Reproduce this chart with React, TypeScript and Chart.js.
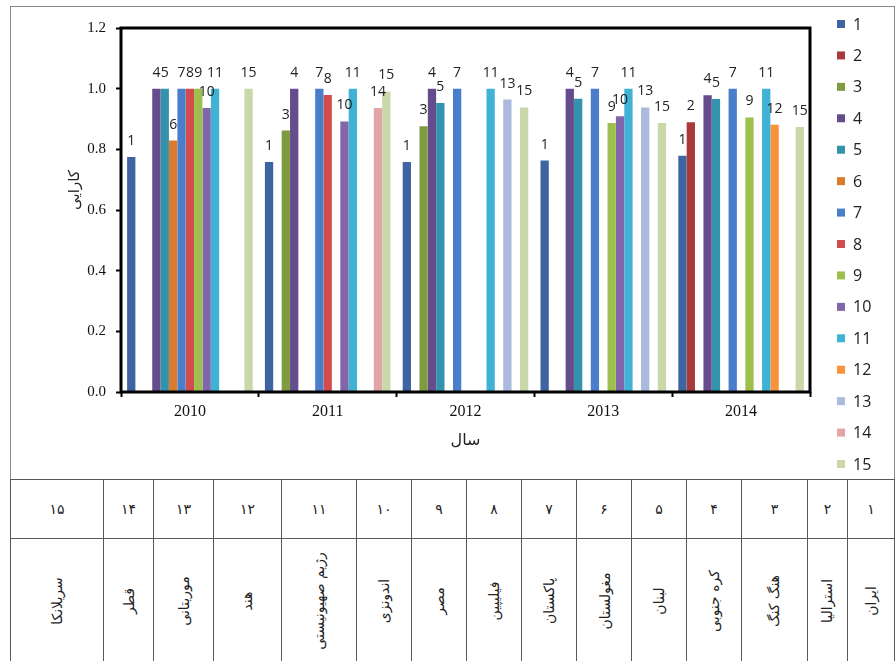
import React, { useEffect, useRef } from "react";
import { Chart, registerables } from "chart.js";

Chart.register(...registerables);

// ---- data ----
const years = ["2010", "2011", "2012", "2013", "2014"];
const seriesLabels = ["1", "2", "3", "4", "5", "6", "7", "8", "9", "10", "11", "12", "13", "14", "15"];

const s1 = [0.775, 0.758, 0.758, 0.763, 0.779];
const s2 = [null, null, null, null, 0.889];
const s3 = [null, 0.862, 0.876, null, null];
const s4 = [1.0, 1.0, 1.0, 1.0, 0.978];
const s5 = [1.0, null, 0.953, 0.967, 0.966];
const s6 = [0.829, null, null, null, null];
const s7 = [1.0, 1.0, 1.0, 1.0, 1.0];
const s8 = [1.0, 0.979, null, null, null];
const s9 = [1.0, null, null, 0.887, 0.905];
const s10 = [0.936, 0.892, null, 0.909, null];
const s11 = [1.0, 1.0, 1.0, 1.0, 1.0];
const s12 = [null, null, null, null, 0.881];
const s13 = [null, null, 0.964, 0.938, null];
const s14 = [null, 0.936, null, null, null];
const s15 = [1.0, 0.991, 0.938, 0.887, 0.874];

const seriesValues = [s1, s2, s3, s4, s5, s6, s7, s8, s9, s10, s11, s12, s13, s14, s15];

const seriesColors = [
  "#3F64A2", "#A83A3A", "#7E9B40", "#654C8C", "#3393AC",
  "#DA7B2D", "#4A7ECB", "#D24B4D", "#9DC04D", "#8166AC",
  "#40B2D3", "#F8933B", "#A9BADD", "#E2A4A4", "#C9D7A9",
];

const yMin = 0;
const yMax = 1.2;
const yStep = 0.2;
const yAxisTitle = "کارایی";
const xAxisTitle = "سال";

const tableNumbers = ["۱", "۲", "۳", "۴", "۵", "۶", "۷", "۸", "۹", "۱۰", "۱۱", "۱۲", "۱۳", "۱۴", "۱۵"];
const countryNames = [
  "ایران", "استرالیا", "هنگ کنگ", "کره جنوبی", "لبنان",
  "مغولستان", "پاکستان", "فیلیپین", "مصر", "اندونزی",
  "رژیم صهیونیستی", "هند", "موریتانی", "قطر", "سریلانکا",
];

// ---- layout (page px) ----
const colEdges = [10, 103, 153, 213, 281, 356, 411, 466, 521, 576, 631, 686, 741, 807, 847, 894];

const framePlugin = {
  id: "plotFrame",
  afterDatasetsDraw(chart: any) {
    const { ctx, chartArea } = chart;
    const { left, top, right, bottom } = chartArea;
    ctx.save();
    ctx.strokeStyle = "#000";
    ctx.lineWidth = 3;
    ctx.strokeRect(left, top, right - left, bottom - top);
    ctx.restore();
  },
};

const labelPlugin = {
  id: "barLabels",
  afterDatasetsDraw(chart: any) {
    const ctx = chart.ctx;
    ctx.save();
    ctx.font = '14px "Open Sans", sans-serif';
    ctx.fillStyle = "#222";
    ctx.textAlign = "center";
    ctx.textBaseline = "alphabetic";
    chart.data.datasets.forEach((ds: any, i: number) => {
      const meta = chart.getDatasetMeta(i);
      meta.data.forEach((el: any, j: number) => {
        const v = ds.data[j];
        if (v === null || v === undefined) return;
        ctx.fillText(ds.label, el.x, el.y - 12);
      });
    });
    ctx.restore();
  },
};

const legendPlugin = {
  id: "sideLegend",
  afterDraw(chart: any) {
    const { ctx, chartArea } = chart;
    const boxX = chartArea.right + 27;
    const textX = chartArea.right + 43;
    ctx.save();
    ctx.font = '16px "Open Sans", sans-serif';
    ctx.textAlign = "left";
    ctx.textBaseline = "middle";
    chart.data.datasets.forEach((ds: any, i: number) => {
      const cy = chartArea.top - 4 + i * 31.43;
      ctx.fillStyle = ds.backgroundColor;
      ctx.fillRect(boxX, cy - 4, 8, 8);
      ctx.fillStyle = "#222";
      ctx.fillText(ds.label, textX, cy + 1);
    });
    ctx.restore();
  },
};

const yTitlePlugin = {
  id: "yTitle",
  afterDraw(chart: any) {
    const { ctx, chartArea } = chart;
    ctx.save();
    ctx.translate(chartArea.left - 46, chartArea.top + 162);
    ctx.rotate(-Math.PI / 2);
    ctx.font = '15px "DejaVu Sans", sans-serif';
    ctx.fillStyle = "#222";
    ctx.textAlign = "center";
    ctx.textBaseline = "middle";
    ctx.fillText(yAxisTitle, 0, 0);
    ctx.restore();
  },
};

function BarChart() {
  const ref = useRef<HTMLCanvasElement | null>(null);
  useEffect(() => {
    if (!ref.current) return;
    const chart = new Chart(ref.current, {
      type: "bar",
      data: {
        labels: years,
        datasets: seriesValues.map((d, i) => ({
          label: seriesLabels[i],
          data: d as any,
          backgroundColor: seriesColors[i],
          borderWidth: 0,
          categoryPercentage: 0.912,
          barPercentage: 0.99,
        })),
      },
      options: {
        responsive: false,
        animation: false,
        layout: { padding: { left: 0, top: 21, right: 83, bottom: 0 } },
        plugins: {
          legend: { display: false },
          tooltip: { enabled: false },
          title: { display: false },
        },
        scales: {
          x: {
            grid: {
              display: true,
              drawOnChartArea: false,
              drawTicks: true,
              tickLength: 5,
              tickWidth: 2,
              tickColor: "#000",
              offset: true,
            },
            border: { display: false },
            ticks: {
              font: { family: '"Liberation Serif", serif', size: 16 },
              color: "#111",
              padding: 5,
            },
            title: {
              display: true,
              text: xAxisTitle,
              font: { family: '"DejaVu Sans", sans-serif', size: 16 },
              color: "#222",
              padding: { top: 0, bottom: 29 },
            },
            afterFit(scale: any) {
              scale.height = 87;
            },
          },
          y: {
            min: yMin,
            max: yMax,
            ticks: {
              stepSize: yStep,
              callback: (v: any) => Number(v).toFixed(1),
              font: { family: '"Liberation Serif", serif', size: 15 },
              color: "#111",
              padding: 10,
            },
            grid: {
              drawOnChartArea: false,
              drawTicks: true,
              tickLength: 5,
              tickWidth: 2,
              tickColor: "#000",
            },
            border: { display: false },
            afterFit(scale: any) {
              scale.width = 110;
            },
          },
        },
      } as any,
      plugins: [framePlugin, labelPlugin, legendPlugin, yTitlePlugin],
    });
    return () => chart.destroy();
  }, []);
  return (
    <canvas
      ref={ref}
      width={882}
      height={472}
      style={{ position: "absolute", left: 11, top: 7, width: 882, height: 472 }}
    />
  );
}

export default function App() {
  const lineColor = "#595959";
  const cols = colEdges.slice(0, -1).map((x, i) => ({
    left: x,
    width: colEdges[i + 1] - x + 1,
    idx: 14 - i,
  }));
  return (
    <div
      style={{
        position: "absolute",
        left: 0,
        top: 0,
        width: 896,
        height: 661,
        overflow: "hidden",
        background: "#fff",
      }}
    >
      <div
        style={{
          position: "absolute",
          left: 10,
          top: 6,
          width: 885,
          height: 474,
          border: "1px solid #8a8a8a",
          boxSizing: "border-box",
        }}
      />
      <BarChart />
      {cols.map((c) => (
        <React.Fragment key={c.idx}>
          <div
            style={{
              position: "absolute",
              left: c.left,
              top: 479,
              width: c.width,
              height: 60,
              border: `1px solid ${lineColor}`,
              boxSizing: "border-box",
              display: "flex",
              alignItems: "center",
              justifyContent: "center",
              fontFamily: '"DejaVu Sans", sans-serif',
              fontSize: 14,
              color: "#222",
            }}
          >
            {tableNumbers[c.idx]}
          </div>
          <div
            style={{
              position: "absolute",
              left: c.left,
              top: 538,
              width: c.width,
              height: 125,
              border: `1px solid ${lineColor}`,
              boxSizing: "border-box",
              display: "flex",
              alignItems: "center",
              justifyContent: "center",
              fontFamily: '"DejaVu Sans", sans-serif',
              fontSize: 14,
              color: "#222",
            }}
          >
            <span
              style={{
                display: "inline-block",
                whiteSpace: "nowrap",
                transform: "rotate(-90deg)",
                direction: "rtl",
              }}
            >
              {countryNames[c.idx]}
            </span>
          </div>
        </React.Fragment>
      ))}
    </div>
  );
}
